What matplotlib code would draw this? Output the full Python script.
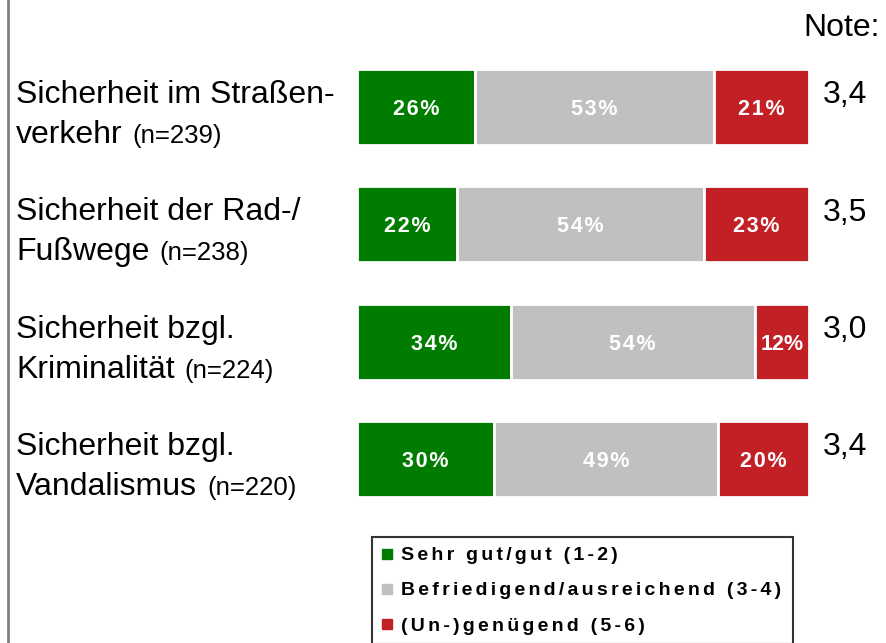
import matplotlib
matplotlib.use("Agg")
import matplotlib.pyplot as plt
from matplotlib.lines import Line2D
from matplotlib.transforms import blended_transform_factory
import numpy as np

plt.rcParams['font.family'] = ['Liberation Sans', 'DejaVu Sans']

# data
line1 = ['Sicherheit im Straßen-', 'Sicherheit der Rad-/', 'Sicherheit bzgl.', 'Sicherheit bzgl.']
line2 = ['verkehr', 'Fußwege', 'Kriminalität', 'Vandalismus']
n_labels = ['(n=239)', '(n=238)', '(n=224)', '(n=220)']
good = [26, 22, 34, 30]
medium = [53, 54, 54, 49]
bad = [21, 23, 12, 20]
notes = ['3,4', '3,5', '3,0', '3,4']
series_names = ['Sehr gut/gut (1-2)', 'Befriedigend/ausreichend (3-4)', '(Un-)genügend (5-6)']
colors = ['#007c00', '#c0c0c0', '#c32026']


def spaced(s, sep='\u200a'):
    # fake letter spacing
    return sep.join(s)


W, H = 886, 643
fig = plt.figure(figsize=(W / 100, H / 100), dpi=100)
ax = fig.add_axes([357 / W, 1 - 517.7 / H, 452 / W, 469.4 / H])

y = np.arange(len(good))
data = np.array([good, medium, bad], dtype=float)
shares = data / data.sum(axis=0) * 100   # bars fill the full width
left = np.zeros(len(good))
for vals, labels, col in zip(shares, data, colors):
    bars = ax.barh(y, vals, left=left, height=0.65, color=col, edgecolor='white', linewidth=2)
    for b, v in zip(bars, labels):
        txt = f'{int(v)}%' if v < 15 else spaced(f'{int(v)}%')
        ax.text(b.get_x() + b.get_width() / 2, b.get_y() + b.get_height() / 2 + 0.02,
                txt, ha='center', va='center', color='white', fontsize=15.5, fontweight='bold')
    left += vals

ax.set_xlim(0, 100)
ax.set_ylim(3.5, -0.5)
ax.axis('off')

tr = blended_transform_factory(fig.transFigure, ax.transData)

# row labels
for i in range(len(good)):
    ax.text(16 / W, i - 0.034, line1[i], transform=tr, ha='left', va='baseline', fontsize=23)
    t2 = ax.text(16 / W, i + 0.307, line2[i], transform=tr, ha='left', va='baseline', fontsize=23)
    ax.annotate(n_labels[i], xy=(1, i + 0.307), xycoords=(t2, 'data'),
                xytext=(10, 0), textcoords='offset pixels',
                ha='left', va='baseline', fontsize=18.5, annotation_clip=False)
    ax.text(823 / W, i - 0.1, notes[i], transform=tr, ha='left', va='center', fontsize=23)

fig.text(880 / W, 1 - 28 / H, 'Note:', ha='right', va='center', fontsize=23)

# left border line
fig.add_artist(Line2D([8 / W, 8 / W], [0, 1], transform=fig.transFigure, color='#808080', linewidth=2))

# legend
handles = [Line2D([], [], linestyle='none', marker='s', markersize=6.5, color=c) for c in colors]
leg = fig.legend(handles, [spaced(s, '\u200a\u200a') for s in series_names], loc='upper left',
                 bbox_to_anchor=(372 / W, 0, 421 / W, 1 - 537 / H), mode='expand',
                 frameon=True, fancybox=False, edgecolor='black', handlelength=0.5, handletextpad=0.5,
                 labelspacing=0.9, borderpad=0.5, borderaxespad=0,
                 prop={'weight': 'bold', 'size': 14})
leg.get_frame().set_linewidth(1.5)

fig.savefig('out.png', dpi=100)
